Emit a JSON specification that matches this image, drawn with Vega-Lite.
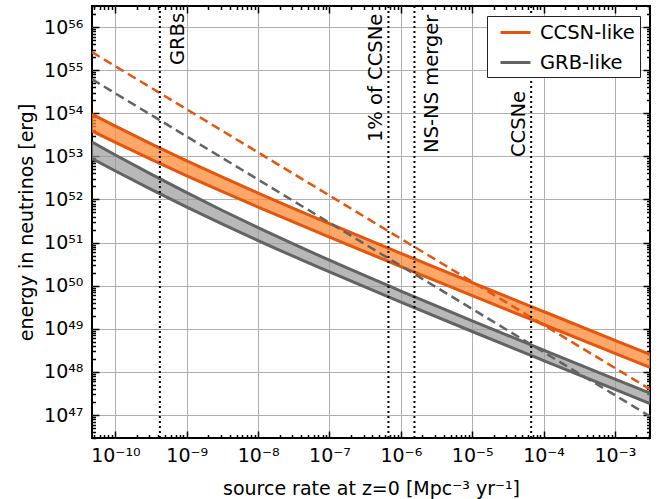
{
  "$schema": "https://vega.github.io/schema/vega-lite/v6.json",
  "width": 558,
  "height": 432,
  "autosize": {"type": "none"},
  "padding": {"left": 92, "top": 6, "right": 17, "bottom": 61},
  "config": {
    "view": {"stroke": "black", "strokeWidth": 2},
    "font": "DejaVu Sans",
    "axis": {"labelFont": "DejaVu Sans", "titleFont": "DejaVu Sans", "labelColor": "black", "titleColor": "black", "titleFontWeight": "normal"}
  },
  "datasets": {
    "bands": [
      {"model": "CCSN-like", "rate": 4.7e-11, "hi": 9.47e53, "lo": 3.878e53},
      {"model": "CCSN-like", "rate": 1e-10, "hi": 5.005e53, "lo": 2.101e53},
      {"model": "CCSN-like", "rate": 3.162e-10, "hi": 1.951e53, "lo": 8.49e52},
      {"model": "CCSN-like", "rate": 1e-9, "hi": 7.88e52, "lo": 3.543e52},
      {"model": "CCSN-like", "rate": 3.162e-9, "hi": 3.287e52, "lo": 1.519e52},
      {"model": "CCSN-like", "rate": 1e-8, "hi": 1.408e52, "lo": 6.651e51},
      {"model": "CCSN-like", "rate": 1e-7, "hi": 2.744e51, "lo": 1.335e51},
      {"model": "CCSN-like", "rate": 1e-6, "hi": 5.62e50, "lo": 2.777e50},
      {"model": "CCSN-like", "rate": 1e-5, "hi": 1.182e50, "lo": 5.885e49},
      {"model": "CCSN-like", "rate": 1e-4, "hi": 2.518e49, "lo": 1.2585e49},
      {"model": "CCSN-like", "rate": 1e-3, "hi": 5.395e48, "lo": 2.70e48},
      {"model": "CCSN-like", "rate": 3.1e-3, "hi": 2.535e48, "lo": 1.27e48},
      {"model": "GRB-like", "rate": 4.7e-11, "hi": 2.133e53, "lo": 8.848e52},
      {"model": "GRB-like", "rate": 1e-10, "hi": 1.0725e53, "lo": 4.56e52},
      {"model": "GRB-like", "rate": 3.162e-10, "hi": 3.856e52, "lo": 1.709e52},
      {"model": "GRB-like", "rate": 1e-9, "hi": 1.4347e52, "lo": 6.644e51},
      {"model": "GRB-like", "rate": 3.162e-9, "hi": 5.538e51, "lo": 2.677e51},
      {"model": "GRB-like", "rate": 1e-8, "hi": 2.2156e51, "lo": 1.1134e51},
      {"model": "GRB-like", "rate": 1e-7, "hi": 3.898e50, "lo": 2.081e50},
      {"model": "GRB-like", "rate": 1e-6, "hi": 7.52e49, "lo": 4.165e49},
      {"model": "GRB-like", "rate": 1e-5, "hi": 1.533e49, "lo": 8.655e48},
      {"model": "GRB-like", "rate": 1e-4, "hi": 3.215e48, "lo": 1.834e48},
      {"model": "GRB-like", "rate": 1e-3, "hi": 6.837e47, "lo": 3.918e47},
      {"model": "GRB-like", "rate": 3.1e-3, "hi": 3.206e47, "lo": 1.84e47}
    ],
    "dashed": [
      {"model": "CCSN-like", "rate": 4.7e-11, "energy": 2.62e55},
      {"model": "CCSN-like", "rate": 3.1e-3, "energy": 3.97e47},
      {"model": "GRB-like", "rate": 4.7e-11, "energy": 6.14e54},
      {"model": "GRB-like", "rate": 3.1e-3, "energy": 9.31e46}
    ],
    "sources": [
      {"label": "GRBs", "rate": 4.2e-10, "ypos": 1.31e55, "side": "right"},
      {"label": "1% of CCSNe", "rate": 6.7e-7, "ypos": 2.14e53, "side": "left"},
      {"label": "NS-NS merger", "rate": 1.55e-6, "ypos": 1.2e53, "side": "right"},
      {"label": "CCSNe", "rate": 6.7e-5, "ypos": 9.6e52, "side": "left"}
    ]
  },
  "layer": [
    {
      "data": {"name": "bands"},
      "transform": [{"filter": "datum.model === 'CCSN-like'"}],
      "mark": {"type": "area", "fill": "#fc8a36", "opacity": 0.75, "clip": true, "interpolate": "monotone"},
      "encoding": {
        "x": {
          "field": "rate", "type": "quantitative",
          "scale": {"type": "log", "domain": [4.7e-11, 3.1e-3], "nice": false},
          "axis": {
            "orient": "bottom",
            "title": "source rate at z=0 [Mpc⁻³ yr⁻¹]",
            "titleFontSize": 19, "titlePadding": 11,
            "values": [5e-11,6e-11,7e-11,8e-11,9e-11,1e-10,2e-10,3e-10,4e-10,5e-10,6e-10,7e-10,8e-10,9e-10,1e-9,2e-9,3e-9,4e-9,5e-9,6e-9,7e-9,8e-9,9e-9,1e-8,2e-8,3e-8,4e-8,5e-8,6e-8,7e-8,8e-8,9e-8,1e-7,2e-7,3e-7,4e-7,5e-7,6e-7,7e-7,8e-7,9e-7,1e-6,2e-6,3e-6,4e-6,5e-6,6e-6,7e-6,8e-6,9e-6,1e-5,2e-5,3e-5,4e-5,5e-5,6e-5,7e-5,8e-5,9e-5,1e-4,2e-4,3e-4,4e-4,5e-4,6e-4,7e-4,8e-4,9e-4,1e-3,2e-3,3e-3],
            "labelExpr": "abs(log(datum.value)/LN10 - round(log(datum.value)/LN10)) < 0.01 ? '10' + ['⁻¹⁰','⁻⁹','⁻⁸','⁻⁷','⁻⁶','⁻⁵','⁻⁴','⁻³'][round(log(datum.value)/LN10)+10] : ''",
            "labelFontSize": 19, "labelPadding": 15, "labelFlush": false, "labelOverlap": false, "labelBound": false,
            "domain": false,
            "tickColor": "black", "tickWidth": 1.5,
            "tickSize": {"condition": {"test": "abs(log(datum.value)/LN10 - round(log(datum.value)/LN10)) < 0.01", "value": -7}, "value": -3.5},
            "grid": true, "gridColor": "#b0b0b0", "gridWidth": 1,
            "gridOpacity": {"condition": {"test": "abs(log(datum.value)/LN10 - round(log(datum.value)/LN10)) < 0.01", "value": 1}, "value": 0}
          }
        },
        "y": {
          "field": "hi", "type": "quantitative",
          "scale": {"type": "log", "domain": [2.93e46, 3.07e56], "nice": false},
          "axis": {
            "orient": "left",
            "title": "energy in neutrinos [erg]",
            "titleFontSize": 19, "titlePadding": 7,
            "values": [3e46,4e46,5e46,6e46,7e46,8e46,9e46,1e47,2e47,3e47,4e47,5e47,6e47,7e47,8e47,9e47,1e48,2e48,3e48,4e48,5e48,6e48,7e48,8e48,9e48,1e49,2e49,3e49,4e49,5e49,6e49,7e49,8e49,9e49,1e50,2e50,3e50,4e50,5e50,6e50,7e50,8e50,9e50,1e51,2e51,3e51,4e51,5e51,6e51,7e51,8e51,9e51,1e52,2e52,3e52,4e52,5e52,6e52,7e52,8e52,9e52,1e53,2e53,3e53,4e53,5e53,6e53,7e53,8e53,9e53,1e54,2e54,3e54,4e54,5e54,6e54,7e54,8e54,9e54,1e55,2e55,3e55,4e55,5e55,6e55,7e55,8e55,9e55,1e56,2e56,3e56],
            "labelExpr": "abs(log(datum.value)/LN10 - round(log(datum.value)/LN10)) < 0.01 ? '10' + ['⁴⁷','⁴⁸','⁴⁹','⁵⁰','⁵¹','⁵²','⁵³','⁵⁴','⁵⁵','⁵⁶'][round(log(datum.value)/LN10)-47] : ''",
            "labelFontSize": 19, "labelPadding": 16, "labelFlush": false, "labelOverlap": false, "labelBound": false,
            "domain": false,
            "tickColor": "black", "tickWidth": 1.5,
            "tickSize": {"condition": {"test": "abs(log(datum.value)/LN10 - round(log(datum.value)/LN10)) < 0.01", "value": -7}, "value": -3.5},
            "grid": true, "gridColor": "#b0b0b0", "gridWidth": 1,
            "gridOpacity": {"condition": {"test": "abs(log(datum.value)/LN10 - round(log(datum.value)/LN10)) < 0.01", "value": 1}, "value": 0}
          }
        },
        "y2": {"field": "lo"}
      }
    },
    {
      "data": {"name": "bands"},
      "transform": [{"filter": "datum.model === 'GRB-like'"}],
      "mark": {"type": "area", "fill": "#9a9a9a", "opacity": 0.7, "clip": true, "interpolate": "monotone"},
      "encoding": {
        "x": {"field": "rate", "type": "quantitative", "axis": null},
        "y": {"field": "hi", "type": "quantitative", "axis": null},
        "y2": {"field": "lo"}
      }
    },
    {
      "data": {"name": "bands"},
      "transform": [{"fold": ["hi", "lo"], "as": ["edge", "energy"]}],
      "mark": {"type": "line", "strokeWidth": 3, "clip": true, "interpolate": "monotone"},
      "encoding": {
        "x": {
          "field": "rate", "type": "quantitative",
          "axis": {
            "orient": "top", "title": null, "labels": false, "grid": false, "domain": false,
            "values": [5e-11,6e-11,7e-11,8e-11,9e-11,1e-10,2e-10,3e-10,4e-10,5e-10,6e-10,7e-10,8e-10,9e-10,1e-9,2e-9,3e-9,4e-9,5e-9,6e-9,7e-9,8e-9,9e-9,1e-8,2e-8,3e-8,4e-8,5e-8,6e-8,7e-8,8e-8,9e-8,1e-7,2e-7,3e-7,4e-7,5e-7,6e-7,7e-7,8e-7,9e-7,1e-6,2e-6,3e-6,4e-6,5e-6,6e-6,7e-6,8e-6,9e-6,1e-5,2e-5,3e-5,4e-5,5e-5,6e-5,7e-5,8e-5,9e-5,1e-4,2e-4,3e-4,4e-4,5e-4,6e-4,7e-4,8e-4,9e-4,1e-3,2e-3,3e-3],
            "tickColor": "black", "tickWidth": 1.5,
            "tickSize": {"condition": {"test": "abs(log(datum.value)/LN10 - round(log(datum.value)/LN10)) < 0.01", "value": -7}, "value": -3.5}
          }
        },
        "y": {
          "field": "energy", "type": "quantitative",
          "axis": {
            "orient": "right", "title": null, "labels": false, "grid": false, "domain": false,
            "values": [3e46,4e46,5e46,6e46,7e46,8e46,9e46,1e47,2e47,3e47,4e47,5e47,6e47,7e47,8e47,9e47,1e48,2e48,3e48,4e48,5e48,6e48,7e48,8e48,9e48,1e49,2e49,3e49,4e49,5e49,6e49,7e49,8e49,9e49,1e50,2e50,3e50,4e50,5e50,6e50,7e50,8e50,9e50,1e51,2e51,3e51,4e51,5e51,6e51,7e51,8e51,9e51,1e52,2e52,3e52,4e52,5e52,6e52,7e52,8e52,9e52,1e53,2e53,3e53,4e53,5e53,6e53,7e53,8e53,9e53,1e54,2e54,3e54,4e54,5e54,6e54,7e54,8e54,9e54,1e55,2e55,3e55,4e55,5e55,6e55,7e55,8e55,9e55,1e56,2e56,3e56],
            "tickColor": "black", "tickWidth": 1.5,
            "tickSize": {"condition": {"test": "abs(log(datum.value)/LN10 - round(log(datum.value)/LN10)) < 0.01", "value": -7}, "value": -3.5}
          }
        },
        "detail": {"field": "edge"},
        "color": {
          "field": "model", "type": "nominal",
          "scale": {"domain": ["CCSN-like", "GRB-like"], "range": ["#e6550d", "#636363"]},
          "legend": {
            "title": null, "orient": "top-right", "offset": 10,
            "symbolType": "M-0.3,0H2.7", "symbolSize": 400, "symbolStrokeWidth": 3,
            "labelFontSize": 19.5, "labelFont": "DejaVu Sans", "labelColor": "black", "labelOffset": 25,
            "padding": 5, "rowPadding": 9,
            "strokeColor": "#222222", "fillColor": "white", "cornerRadius": 0
          }
        }
      }
    },
    {
      "data": {"name": "dashed"},
      "mark": {"type": "line", "strokeWidth": 2.5, "strokeDash": [9, 5], "clip": true},
      "encoding": {
        "x": {"field": "rate", "type": "quantitative", "axis": null},
        "y": {"field": "energy", "type": "quantitative", "axis": null},
        "color": {"field": "model", "type": "nominal"}
      }
    },
    {
      "data": {"name": "sources"},
      "mark": {"type": "rule", "color": "black", "strokeWidth": 2, "strokeDash": [2, 3]},
      "encoding": {
        "x": {"field": "rate", "type": "quantitative", "axis": null}
      }
    },
    {
      "data": {"name": "sources"},
      "transform": [{"filter": "datum.side === 'left'"}],
      "mark": {"type": "text", "angle": 270, "align": "left", "baseline": "alphabetic", "dy": -6.5, "fontSize": 19.5, "font": "DejaVu Sans", "color": "black"},
      "encoding": {
        "x": {"field": "rate", "type": "quantitative", "axis": null},
        "y": {"field": "ypos", "type": "quantitative", "axis": null},
        "text": {"field": "label"}
      }
    },
    {
      "data": {"name": "sources"},
      "transform": [{"filter": "datum.side === 'right'"}],
      "mark": {"type": "text", "angle": 270, "align": "left", "baseline": "alphabetic", "dy": 24, "fontSize": 19.5, "font": "DejaVu Sans", "color": "black"},
      "encoding": {
        "x": {"field": "rate", "type": "quantitative", "axis": null},
        "y": {"field": "ypos", "type": "quantitative", "axis": null},
        "text": {"field": "label"}
      }
    }
  ],
  "resolve": {"axis": {"x": "independent", "y": "independent"}}
}
